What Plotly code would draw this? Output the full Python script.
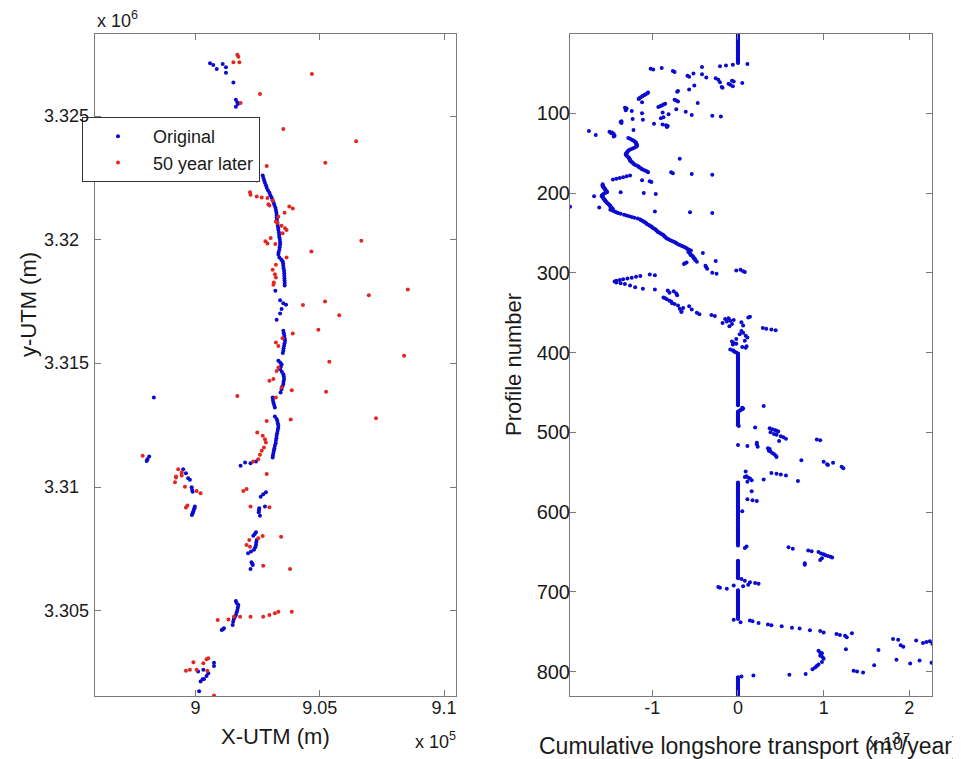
import plotly.graph_objects as go

# target window and default page margin of the browser (body margin)
WIN_W, WIN_H = 961, 759
PAGE_OFF = 8
W, H = WIN_W - PAGE_OFF, WIN_H - PAGE_OFF

# ---------------- Left panel data (UTM metres) ----------------
original_xy = [
    (900580, 3327130), (900710, 3327060), (900850, 3326900), (901090, 3327100), (901220, 3326970),
    (901220, 3326750), (901520, 3326360), (901620, 3325660), (901680, 3325550), (901620, 3325380),
    (901700, 3325490),
    (902700, 3322600), (902730, 3322500), (902760, 3322400), (902790, 3322300), (902830, 3322200),
    (902860, 3322100), (902910, 3322000), (902970, 3321900), (903010, 3321800), (903060, 3321700),
    (903100, 3321600), (903140, 3321500), (903170, 3321400), (903210, 3321300), (903230, 3321200),
    (903250, 3321100), (903260, 3321000), (903260, 3320900), (903270, 3320800), (903290, 3320700),
    (903300, 3320600), (903320, 3320500), (903330, 3320400), (903350, 3320300), (903360, 3320200),
    (903370, 3320100), (903390, 3320000), (903400, 3319900), (903400, 3319800), (903380, 3319700),
    (903370, 3319600), (903340, 3319500), (903330, 3319400), (903370, 3319280), (903450, 3319200),
    (903500, 3319130), (903520, 3319050), (903530, 3318950), (903540, 3318850), (903560, 3318750),
    (903565, 3318650), (903570, 3318550), (903575, 3318450), (903580, 3318350), (903585, 3318250),
    (903585, 3318150), (903210, 3317940),
    (903400, 3317560), (903530, 3317430), (903640, 3317370), (903460, 3317200), (903400, 3317020),
    (903260, 3316770),
    (903530, 3316320), (903550, 3316220), (903570, 3316120), (903580, 3316020), (903600, 3315920),
    (903580, 3315820), (903560, 3315720), (903540, 3315620), (903530, 3315520), (903510, 3315420),
    (903330, 3315110), (903400, 3315040), (903460, 3314970), (903430, 3314870), (903400, 3314770),
    (903470, 3314670), (903530, 3314570), (903550, 3314470), (903560, 3314370), (903540, 3314270),
    (903530, 3314170), (903490, 3314070), (903460, 3313960), (903420, 3313830),
    (903100, 3313630), (903110, 3313530), (903130, 3313420), (903160, 3313320), (903190, 3313220),
    (903190, 3312860), (903260, 3312760), (903290, 3312680), (903310, 3312580), (903330, 3312480),
    (903320, 3312380), (903300, 3312280), (903280, 3312180), (903260, 3312080), (903250, 3311980),
    (903230, 3311880), (903220, 3311780), (903190, 3311680), (903170, 3311580), (903150, 3311480),
    (903130, 3311380), (903110, 3311280), (903100, 3311200),
    (902430, 3311040), (902210, 3310970), (901990, 3311000), (901810, 3310870),
    (898320, 3313630), (898030, 3311060), (898130, 3311240), (898060, 3311130),
    (899500, 3310730), (899610, 3310570), (899700, 3310360), (899770, 3310300), (899840, 3310000),
    (899860, 3309890), (899880, 3309820), (899970, 3309220), (899950, 3309150), (899930, 3309080),
    (899900, 3309010), (899880, 3308950), (899850, 3308880),
    (902830, 3309800), (902720, 3309720), (902620, 3309620), (902790, 3309220), (902560, 3309150),
    (902550, 3309070), (902540, 3308990), (902590, 3308850),
    (902430, 3308180), (902380, 3308110), (902320, 3308040), (902460, 3307870), (902440, 3307770),
    (902430, 3307670), (902400, 3307570), (902350, 3307470), (902230, 3307400), (902110, 3307330),
    (902250, 3306970), (902280, 3306910), (902300, 3306860), (902210, 3306700),
    (901620, 3305400), (901650, 3305320), (901720, 3305240), (901700, 3305140), (901680, 3305040),
    (901650, 3304940), (901620, 3304840), (901580, 3304760), (901540, 3304680), (901510, 3304560),
    (901490, 3304430), (901140, 3304300), (901100, 3304260), (901050, 3304230),
    (900740, 3302910), (900740, 3302780), (900510, 3302480), (900440, 3302370), (900340, 3302250),
    (900280, 3302240), (900200, 3302150), (900140, 3301760), (900310, 3302620), (900100, 3302550),
]

later_xy = [
    (901680, 3327480), (901720, 3327400), (901760, 3327170), (901520, 3327170), (904680, 3326700),
    (902590, 3325890), (901810, 3325530), (903530, 3324480), (906460, 3323980), (905220, 3323110),
    (902860, 3322980), (902460, 3322390), (902190, 3321920), (902210, 3321820), (902460, 3321750),
    (902660, 3321710), (902890, 3321690), (902930, 3321440), (902970, 3321380), (903100, 3321580),
    (903770, 3321340), (903910, 3321260), (903580, 3321090), (903330, 3320930), (903230, 3320740),
    (903290, 3320680), (903460, 3320570), (903600, 3320470), (903660, 3320390), (903500, 3320260),
    (903020, 3320070), (902810, 3319940), (902890, 3319850), (903210, 3319830), (906670, 3319960),
    (904660, 3319530),
    (903660, 3319280), (903230, 3318990), (903100, 3318790), (903190, 3318610), (903230, 3318480),
    (903150, 3318270), (903130, 3318180), (906970, 3317760), (908540, 3317990), (905210, 3317510),
    (904320, 3317360), (905780, 3316950), (904940, 3316360), (903910, 3316210), (903230, 3315850),
    (903330, 3315710), (903500, 3316020), (905380, 3315070), (908390, 3315310), (903330, 3314840),
    (903260, 3314700), (903130, 3314370), (902970, 3314300), (903460, 3314030), (903870, 3313920),
    (905250, 3313860), (901680, 3313690), (903230, 3313630), (902860, 3312680), (903830, 3312740),
    (907260, 3312790), (902480, 3312210), (902700, 3312080), (902790, 3311940), (902830, 3311810),
    (902750, 3311610), (902660, 3311470), (902590, 3311310), (902520, 3311130), (902320, 3311040),
    (902860, 3310530), (899300, 3310730), (899440, 3310600), (899210, 3310390), (897870, 3311270),
    (899170, 3310200), (899210, 3310430), (899440, 3310470), (899570, 3310020), (900040, 3309850),
    (900200, 3309760), (899670, 3309260), (899610, 3309180), (901920, 3309850), (902050, 3309930),
    (902210, 3309220), (902970, 3309190), (902160, 3307870), (902050, 3307670), (902190, 3307600),
    (902520, 3307940), (902700, 3308030), (903440, 3308000), (902720, 3306830), (903800, 3306700),
    (900890, 3304640), (901320, 3304660), (901540, 3304770), (901790, 3304770), (902210, 3304770),
    (902720, 3304770), (902970, 3304840), (903190, 3304910), (903330, 3304970), (903870, 3304970),
    (899910, 3302930), (900440, 3303050), (900510, 3303090), (900310, 3302890), (899610, 3302580),
    (899770, 3302620), (900040, 3302620), (900470, 3302580), (900740, 3301580),
]

# ---------------- Right panel data ----------------
# profile ranges where cumulative transport stays at zero
zero_runs = [(1, 37), (402, 466), (474, 491), (563, 642), (661, 683), (698, 734), (807, 831)]

transport_points = [
    (38, 0.11), (39, -0.06), (40, -0.14), (41, -0.21), (42, -0.42), (43, -0.89), (44, -1.02),
    (45, -0.99), (47, -0.76), (48, -0.74), (50, -0.52), (51, -0.42), (53, -0.59), (54, -0.57),
    (55, -0.37), (56, -0.26), (58, -0.23), (59, -0.07), (60, -0.05), (61, -0.21), (62, 0.05),
    (63, -0.11), (64, -0.09), (65, -0.51), (66, -0.06), (67, -0.19), (68, -0.18), (70, -0.57),
    (72, -0.70), (73, -0.71),
    (74, -1.05), (75, -1.06), (76, -1.08), (77, -1.09), (78, -1.11), (79, -1.12), (80, -1.14),
    (81, -1.15), (82, -1.16),
    (83, -0.74), (84, -0.72), (85, -0.70), (86, -1.12), (87, -0.47),
    (88, -0.85), (89, -0.87), (90, -0.89), (91, -0.91), (92, -0.93),
    (93, -1.32), (94, -1.30), (95, -0.72), (96, -1.31), (97, -1.24), (98, -0.61), (99, -0.88),
    (100, -1.12), (101, -0.81), (102, -0.54), (103, -0.30), (104, -0.20), (105, -0.87),
    (106, -0.90), (107, -1.23), (108, -1.11), (110, -1.36), (111, -1.37), (112, -1.36),
    (113, -0.98), (114, -0.88), (115, -0.84), (116, -0.82), (117, -0.83),
    (121, -1.22), (122, -1.74), (123, -1.50), (124, -1.47), (125, -1.48), (126, -1.45),
    (127, -1.66), (128, -1.44), (129, -1.45), (131, -1.28),
    (132, -1.26), (133, -1.24), (134, -1.22), (135, -1.21), (136, -1.20), (137, -1.19),
    (138, -1.19), (139, -1.18), (140, -1.18), (141, -1.18), (142, -1.19), (143, -1.21),
    (144, -1.23), (145, -1.25), (146, -1.27), (147, -1.28), (148, -1.29), (149, -1.30),
    (150, -1.30), (151, -1.31), (152, -1.31), (153, -1.30), (154, -1.29), (155, -1.28),
    (156, -1.27), (157, -1.27), (158, -1.26), (159, -1.26), (160, -1.25), (161, -1.24),
    (162, -1.23), (163, -1.22), (164, -1.21), (165, -1.19), (166, -1.17), (167, -1.16),
    (168, -1.15), (169, -1.13), (170, -1.12), (171, -1.10), (172, -1.08), (173, -1.06),
    (174, -1.05),
    (157, -0.68), (174, -0.78), (175, -0.76), (176, -0.54), (177, -0.30),
    (178, -1.26), (179, -1.30), (180, -1.34), (181, -1.38), (182, -1.42), (183, -1.46),
    (184, -1.12), (185, -1.03), (186, -1.01),
    (189, -1.58), (190, -1.58), (191, -1.58), (192, -1.57), (193, -1.57), (194, -1.56),
    (195, -1.55), (196, -1.55), (197, -1.54), (198, -1.53), (199, -1.53), (200, -1.55),
    (201, -1.57), (202, -1.58), (203, -1.59), (204, -1.59), (205, -1.58), (206, -1.57),
    (207, -1.57), (208, -1.56), (209, -1.55), (210, -1.55), (211, -1.54), (212, -1.53),
    (213, -1.52), (214, -1.51), (215, -1.50), (216, -1.49), (217, -1.49), (218, -1.48),
    (219, -1.47), (220, -1.46),
    (199, -1.37), (200, -1.10), (201, -0.96), (204, -1.68), (217, -1.96), (218, -1.62),
    (223, -0.97), (224, -0.56), (225, -0.30),
    (221, -1.49), (222, -1.46), (223, -1.44), (224, -1.42), (225, -1.40), (226, -1.37),
    (227, -1.33), (228, -1.30), (229, -1.27), (230, -1.24), (231, -1.21), (232, -1.17),
    (233, -1.14), (234, -1.13), (235, -1.11), (236, -1.10), (237, -1.08), (238, -1.07),
    (239, -1.06), (240, -1.04), (241, -1.03), (242, -1.01), (243, -1.00), (244, -0.99),
    (245, -0.97), (246, -0.96), (247, -0.95), (248, -0.94), (249, -0.93), (250, -0.91),
    (251, -0.90), (252, -0.88), (253, -0.87), (254, -0.86), (255, -0.85), (256, -0.84),
    (257, -0.83), (258, -0.81), (259, -0.79), (260, -0.77), (261, -0.75), (262, -0.73),
    (263, -0.72), (264, -0.70), (265, -0.68), (266, -0.66), (267, -0.64), (268, -0.62),
    (269, -0.60), (270, -0.59), (271, -0.57), (272, -0.55),
    (273, -0.56), (274, -0.58), (275, -0.41), (276, -0.56), (277, -0.55), (278, -0.55),
    (279, -0.53), (280, -0.52), (281, -0.52), (282, -0.51), (283, -0.50), (284, -0.50),
    (285, -0.26), (286, -0.48), (287, -0.60), (288, -0.62), (289, -0.63), (291, -0.38),
    (293, -0.37), (295, -0.36), (296, 0.03), (297, -0.02), (298, 0.06), (299, 0.08),
    (300, -0.30), (301, -0.25),
    (302, -1.03), (303, -0.97), (304, -1.14), (305, -1.19), (306, -1.24), (307, -1.29),
    (308, -1.34), (309, -1.38), (310, -1.42), (311, -1.44), (312, -1.42), (313, -1.37),
    (314, -1.32), (316, -1.26), (318, -1.20), (320, -1.11), (321, -0.97),
    (322, -0.82), (323, -0.75), (325, -0.80), (326, -0.72), (328, -0.71), (331, -0.87),
    (332, -0.85), (333, -0.83), (335, -0.80), (336, -0.78), (338, -0.77), (339, -0.74),
    (341, -0.70), (342, -0.57), (344, -0.64), (345, -0.68), (346, -0.54), (348, -0.66),
    (349, -0.66), (350, -0.48), (352, -0.45), (353, -0.31), (354, -0.27),
    (355, 0.14), (356, 0.12), (357, -0.11), (358, -0.15), (359, -0.05), (360, -0.09),
    (361, -0.13), (362, 0.04), (363, -0.18), (364, -0.07), (366, 0.06), (367, -0.10),
    (369, 0.29), (370, 0.33), (371, 0.39), (372, 0.44), (373, 0.04), (375, 0.06), (377, 0.02),
    (379, 0.09), (381, 0.11), (383, -0.02), (385, 0.08), (386, -0.07), (388, -0.05),
    (389, -0.02), (390, -0.06), (392, 0.10), (393, 0.05), (394, 0.09), (396, -0.09),
    (397, -0.06), (398, -0.05), (399, -0.04), (400, -0.02), (401, 0.0),
    (467, 0.30), (469, 0.05), (470, 0.06), (471, 0.05), (472, 0.03), (473, 0.02), (492, 0.01),
    (494, 0.20), (495, 0.37), (496, 0.40), (497, 0.43), (498, 0.45), (499, 0.47), (500, 0.38),
    (502, 0.42), (503, 0.45), (505, 0.50), (506, 0.53), (508, 0.56), (509, 0.92), (510, 0.96),
    (511, 0.48), (513, 0.22), (515, 0.22), (516, 0.0), (517, 0.11), (518, 0.23), (520, 0.35),
    (521, 0.37), (523, 0.36), (524, 0.38), (526, 0.40), (527, 0.42), (529, 0.44), (531, 0.45),
    (535, 0.74), (537, 1.00), (538, 1.11), (540, 1.04), (541, 1.05), (543, 1.21), (545, 1.23),
    (549, 0.09), (551, 0.39), (552, 0.45), (553, 0.50), (554, 0.56), (555, 0.10), (556, 0.08),
    (557, 0.12), (558, 0.14), (559, 0.30), (560, 0.16), (561, 0.70), (562, 0.11),
    (574, 0.16), (584, 0.11), (585, 0.17), (586, 0.22), (599, 0.05), (643, 0.10), (645, 0.08),
    (644, 0.59), (646, 0.64), (648, 0.82), (649, 0.86), (650, 0.94), (652, 0.97), (653, 1.00),
    (654, 1.02), (655, 1.05), (656, 1.08), (657, 1.10), (658, 0.98), (660, 0.96), (664, 0.78),
    (666, 0.78),
    (684, 0.04), (686, 0.08), (688, 0.14), (689, 0.20), (690, 0.24), (691, 0.12), (692, -0.05),
    (693, 0.06), (694, -0.23), (695, -0.21), (696, -0.13),
    (735, -0.05), (736, 0.14), (737, 0.17), (738, 0.03), (739, 0.24), (741, 0.35), (742, 0.39),
    (743, 0.51), (745, 0.63), (746, 0.72), (748, 0.84), (749, 0.96), (751, 1.00), (752, 1.33),
    (753, 1.15), (754, 1.19), (755, 1.25), (757, 1.27),
    (759, 1.81), (760, 1.87), (761, 2.08), (762, 2.24), (763, 2.20), (764, 2.16), (765, 2.27),
    (767, 1.90), (769, 1.93), (772, 1.26), (773, 1.64),
    (774, 0.94), (776, 0.96), (777, 0.98), (779, 0.97), (780, 0.96), (782, 0.99), (784, 1.00),
    (785, 1.85), (786, 2.12), (788, 0.98), (789, 2.26), (790, 2.01), (791, 0.94), (792, 1.59),
    (793, 0.92), (795, 0.90), (797, 0.87), (799, 1.35), (800, 1.39), (801, 1.46),
    (803, 0.79), (804, 0.60), (805, 0.18), (806, 0.04),
]

x_tick_vals = [900000, 905000, 910000]
x_tick_text = ["9", "9.05", "9.1"]
y_tick_vals = [3305000, 3310000, 3315000, 3320000, 3325000]
y_tick_text = ["3.305", "3.31", "3.315", "3.32", "3.325"]
t_tick_vals = [-1, 0, 1, 2]
p_tick_vals = [100, 200, 300, 400, 500, 600, 700, 800]

# ---------------- Build series ----------------
orig_x = [p[0] for p in original_xy]
orig_y = [p[1] for p in original_xy]
later_x = [p[0] for p in later_xy]
later_y = [p[1] for p in later_xy]

profile_no = []
cum_transport = []
for a, b in zero_runs:
    for p in range(a, b + 1):
        profile_no.append(p)
        cum_transport.append(0.0)
for p, v in transport_points:
    profile_no.append(p)
    cum_transport.append(v)

BLUE = "#0b0bd0"
RED = "#e3261f"
FONT = "Liberation Sans, Arial, Helvetica, sans-serif"
AXCOL = "#7a7a7a"
TXT = "#1a1a1a"

fig = go.Figure()
fig.add_trace(go.Scatter(x=orig_x, y=orig_y, mode="markers", name="Original",
                         marker=dict(color=BLUE, size=4), xaxis="x", yaxis="y"))
fig.add_trace(go.Scatter(x=later_x, y=later_y, mode="markers", name="50 year later",
                         marker=dict(color=RED, size=4), xaxis="x", yaxis="y"))
fig.add_trace(go.Scatter(x=cum_transport, y=profile_no, mode="markers", showlegend=False,
                         marker=dict(color=BLUE, size=4), xaxis="x2", yaxis="y2"))


def px_x(p):
    return (p - PAGE_OFF) / W


def px_y(p):
    return 1 - (p - PAGE_OFF) / H


ydom = [px_y(696), px_y(34)]
axis_common = dict(showline=True, linecolor=AXCOL, linewidth=1, mirror="ticks",
                   ticks="inside", ticklen=6, tickcolor=AXCOL, showgrid=False, zeroline=False,
                   automargin=False)

fig.update_layout(
    width=W, height=H, margin=dict(l=0, r=0, t=0, b=0),
    paper_bgcolor="white", plot_bgcolor="white",
    font=dict(family=FONT, color=TXT),
    xaxis=dict(domain=[px_x(95), px_x(456)], range=[895950, 910480],
               tickvals=x_tick_vals, ticktext=x_tick_text, anchor="y",
               tickfont=dict(size=18, family=FONT, color=TXT), ticklabelstandoff=-5,
               **axis_common),
    yaxis=dict(domain=ydom, range=[3301564, 3328315],
               tickvals=y_tick_vals, showticklabels=False, anchor="x", **axis_common),
    xaxis2=dict(domain=[px_x(570), px_x(932)], range=[-1.961, 2.265],
                tickvals=t_tick_vals, ticktext=[str(v) for v in t_tick_vals], anchor="y2",
                tickfont=dict(size=18, family=FONT, color=TXT), ticklabelstandoff=-5,
                **axis_common),
    yaxis2=dict(domain=ydom, range=[830.6, 0.5],
                tickvals=p_tick_vals, anchor="x2",
                tickfont=dict(size=20, family=FONT, color=TXT), ticklabelstandoff=-5,
                **axis_common),
    legend=dict(x=px_x(82), y=px_y(117), xanchor="left", yanchor="top",
                bgcolor="white", bordercolor="#333333", borderwidth=1,
                font=dict(size=18, family=FONT, color=TXT), itemwidth=60),
    showlegend=True,
)

annotations = [
    dict(text="X-UTM (m)", x=px_x(275), y=px_y(736), font=dict(size=22)),
    dict(text="y-UTM (m)", x=px_x(28), y=px_y(305), textangle=-90, font=dict(size=22)),
    dict(text="Profile number", x=px_x(513), y=px_y(365), textangle=-90, font=dict(size=22)),
    dict(text="Cumulative longshore transport (m<sup>3</sup>/year)", x=px_x(749), y=px_y(744),
         font=dict(size=23)),
    dict(text="x 10<sup>6</sup>", x=px_x(95), y=px_y(19), xanchor="left", font=dict(size=18)),
    dict(text="x 10<sup>5</sup>", x=px_x(458), y=px_y(740), xanchor="right", font=dict(size=18)),
    dict(text="x 10<sup>7</sup>", x=px_x(912), y=px_y(742), xanchor="right", font=dict(size=18)),
]
for a in annotations:
    a.setdefault("xanchor", "center")
    a.update(xref="paper", yref="paper", showarrow=False, yanchor="middle")
    a["font"] = dict(family=FONT, color=TXT, **a["font"])

# left-aligned y tick labels of the left panel (as in the reference)
for v, t in zip(y_tick_vals, y_tick_text):
    annotations.append(dict(text=t, x=px_x(42), y=v, xref="paper", yref="y",
                            xanchor="left", yanchor="middle", showarrow=False,
                            font=dict(size=18, family=FONT, color=TXT)))

fig.update_layout(annotations=annotations)

fig.write_html("out.html")
